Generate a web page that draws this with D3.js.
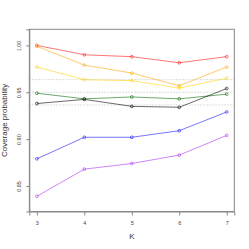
<!DOCTYPE html>
<html><head><meta charset="utf-8">
<script src="https://cdn.jsdelivr.net/npm/d3@7"></script>
<style>body{margin:0;background:#fff}svg{display:block}text{font-family:"Liberation Sans",Arial,sans-serif}</style>
</head><body>
<script>
const K = [3, 4, 5, 6, 7];
const seriesNames = ["red", "orange", "yellow", "green", "black", "blue", "purple"];
const red    = [1.000, 0.990, 0.988, 0.9815, 0.988];
const orange = [0.999, 0.979, 0.9705, 0.957, 0.977];
const yellow = [0.977, 0.9634, 0.9624, 0.9545, 0.965];
const green  = [0.949, 0.943, 0.945, 0.943, 0.948];
const black  = [0.938, 0.9424, 0.935, 0.934, 0.954];
const blue   = [0.879, 0.902, 0.902, 0.909, 0.929];
const purple = [0.839, 0.868, 0.874, 0.883, 0.904];
const refLines = [0.9635, 0.95, 0.9365];
const yTicks = [0.85, 0.90, 0.95, 1.00];
const yTickLabels = ["0.85", "0.90", "0.95", "1.00"];
const xTicks = [3, 4, 5, 6, 7];

const series = [red, orange, yellow, green, black, blue, purple];
const colors = ["rgba(255,0,0,0.6)", "rgba(255,165,0,0.65)", "rgba(255,210,0,0.65)",
                "rgba(0,110,0,0.65)", "rgba(0,0,0,0.65)", "rgba(0,0,255,0.6)", "rgba(160,32,240,0.6)"];

const W = 249, H = 249;
const L = 29.3, R = 234.3, T = 29.3, B = 211.5;
const svg = d3.select("body").append("svg").attr("width", W).attr("height", H);
const x = d3.scaleLinear().domain([2.84, 7.16]).range([L, R]);
const y = d3.scaleLinear().domain([0.8228, 1.0172]).range([B, T]);

// reference lines
svg.selectAll(".ref").data(refLines).enter().append("line")
  .attr("x1", L).attr("x2", R).attr("y1", d => y(d)).attr("y2", d => y(d))
  .attr("stroke", "#c8c8c8").attr("stroke-width", 0.8).attr("stroke-dasharray", "1.5,1.5");

const line = d3.line().x((d, i) => x(K[i])).y(d => y(d));
series.forEach((s, si) => {
  svg.append("path").attr("d", line(s)).attr("fill", "none")
    .attr("stroke", colors[si]).attr("stroke-width", 0.9);
  svg.selectAll(".pt" + si).data(s).enter().append("circle")
    .attr("cx", (d, i) => x(K[i])).attr("cy", d => y(d)).attr("r", 1.4)
    .attr("fill", "none").attr("stroke", colors[si]).attr("stroke-width", 0.9);
});

// box
svg.append("rect").attr("x", L).attr("y", T).attr("width", R - L).attr("height", B - T)
  .attr("fill", "none").attr("stroke", "#888").attr("stroke-width", 1);

// y axis
const yAxis = d3.axisLeft(y).tickValues(yTicks).tickFormat((d, i) => yTickLabels[i]).tickSize(3).tickPadding(2);
const gy = svg.append("g").attr("transform", `translate(${L},0)`).call(yAxis);
gy.select(".domain").attr("stroke", "#888");
gy.selectAll(".tick line").attr("stroke", "#888");
gy.selectAll(".tick text").attr("font-size", 5.5).attr("fill", "#444")
  .attr("text-anchor", "middle").attr("transform", d => `translate(${-10.5 + 0},${0}) rotate(-90)`)
  .attr("x", 0).attr("dy", "0.35em");

// x axis
const xAxis = d3.axisBottom(x).tickValues(xTicks).tickFormat(d3.format("d")).tickSize(4).tickPadding(6);
const gx = svg.append("g").attr("transform", `translate(0,${B})`).call(xAxis);
gx.select(".domain").attr("stroke", "#888");
gx.selectAll(".tick line").attr("stroke", "#888");
gx.selectAll(".tick text").attr("font-size", 5.5).attr("fill", "#444");

svg.append("text").attr("x", (L + R) / 2).attr("y", 239).attr("text-anchor", "middle")
  .attr("font-size", 8).attr("fill", "#333").text("K");
svg.append("text").attr("transform", `translate(7,${(T + B) / 2}) rotate(-90)`)
  .attr("text-anchor", "middle").attr("font-size", 8).attr("fill", "#333").text("Coverage probability");
</script>
</body></html>
